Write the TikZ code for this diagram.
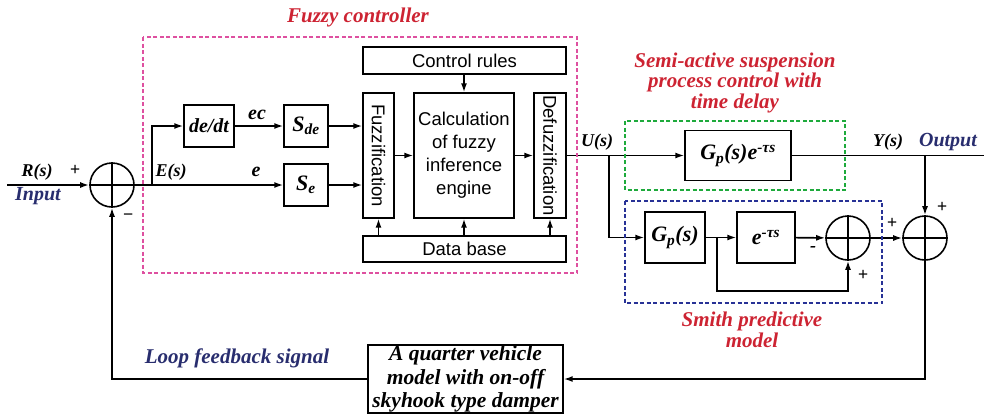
\documentclass[tikz,border=0pt]{standalone}
\usepackage{fontspec}
\setmainfont{Liberation Serif}
\setsansfont{Liberation Sans}
\usetikzlibrary{arrows.meta,calc}
\definecolor{fuzzypink}{RGB}{222,80,160}
\definecolor{plantgreen}{RGB}{30,170,60}
\definecolor{smithblue}{RGB}{40,50,150}
\definecolor{titlered}{RGB}{205,35,50}
\definecolor{navy}{RGB}{40,45,110}
\begin{document}
\begin{tikzpicture}[x=1pt,y=-1pt,
  blk/.style={draw, line width=1.4pt, inner sep=0pt, align=center},
  sans/.style={font=\sffamily\fontsize{18.5}{23}\selectfont},
  lbl/.style={font=\bfseries\itshape\fontsize{18}{21}\selectfont},
  mathlbl/.style={font=\bfseries\itshape\fontsize{22}{24}\selectfont},
  title/.style={font=\bfseries\itshape\fontsize{21}{20.5}\selectfont, text=titlered, align=center},
  navytxt/.style={font=\bfseries\itshape\fontsize{21}{22}\selectfont, text=navy},
  sumc/.style={draw, circle, line width=1.6pt, minimum size=44pt, inner sep=0pt},
  sig/.style={line width=1.6pt},
  arr/.style={sig, -{Latex[length=9pt,width=6pt]}},
  frame/.style={line width=2.4pt, dash pattern=on 4pt off 2.5pt},
]
\useasboundingbox (0,0) rectangle (984,416);

% summing junctions
\node[sumc] (s0) at (112,185) {};
\node[sumc] (s1) at (848,238) {};
\node[sumc] (s2) at (925,238) {};
\foreach \s in {s0,s1,s2}
  \draw[line width=1.1pt] (\s.north) -- (\s.south) (\s.west) -- (\s.east);

% fuzzy controller blocks
\node[blk, lbl, font=\bfseries\itshape\fontsize{20}{22}\selectfont, minimum width=50pt, minimum height=42pt] (dedt) at (209,126) {de/dt};
\node[blk, mathlbl, minimum width=44pt, minimum height=42pt] (sde) at (306,126) {S\textsubscript{de}};
\node[blk, mathlbl, minimum width=44pt, minimum height=42pt] (se) at (306,185) {S\textsubscript{e}};
\node[blk, sans, minimum width=31pt, minimum height=125pt] (fuz) at (378.5,155.5) {\rotatebox{-90}{Fuzzification}};
\node[blk, sans, minimum width=100pt, minimum height=125pt] (calc) at (464,155.5) {Calculation\\of fuzzy\\inference\\engine};
\node[blk, sans, minimum width=32pt, minimum height=125pt] (defz) at (550,155.5) {\rotatebox{-90}{Defuzzification}};
\node[blk, sans, minimum width=203pt, minimum height=27pt] (rules) at (464.5,60.5) {Control rules};
\node[blk, sans, minimum width=203pt, minimum height=26pt] (db) at (464.5,249) {Data base};

% plant and Smith predictor blocks
\node[blk, mathlbl, minimum width=106pt, minimum height=50pt] (gp1) at (738,155.5) {G\textsubscript{p}(s)e\textsuperscript{-τs}};
\node[blk, mathlbl, minimum width=60pt, minimum height=51pt] (gp2) at (675,237.5) {G\textsubscript{p}(s)};
\node[blk, mathlbl, minimum width=58pt, minimum height=51pt] (ets) at (766,237.5) {e\textsuperscript{-τs}};
\node[blk, minimum width=195pt, minimum height=68pt, font=\bfseries\itshape\fontsize{21.5}{23.5}\selectfont] (veh) at (465.5,379)
  {A quarter vehicle\\model with on-off\\skyhook type damper};

% signal routing points
\coordinate (in)  at (7,185);
\coordinate (eb)  at (152,185);
\coordinate (ub)  at (609,155.5);
\coordinate (yb)  at (925,155.5);
\coordinate (out) at (984,155.5);
\coordinate (gb)  at (717,237.5);
\coordinate (gbd) at (717,291);

% signal flow
\draw[arr, line width=2.2pt] (in) -- (s0.west);
\draw[sig] (s0.east) -- (eb);
\draw[arr] (eb) -- (se.west);
\draw[arr] (eb) |- (dedt.west);
\draw[arr] (dedt) -- (sde);
\draw[arr] (sde.east) -- (sde.east -| fuz.west);
\draw[arr] (se.east) -- (se.east -| fuz.west);
\draw[arr] (fuz) -- (calc);
\draw[arr] (calc) -- (defz);
\draw[arr] (rules.south -| calc.north) -- (calc.north);
\draw[arr] (db.north -| fuz.south) -- (fuz.south);
\draw[arr] (db.north -| calc.south) -- (calc.south);
\draw[arr] (db.north -| defz.south) -- (defz.south);
\draw[arr] (defz.east) -- (gp1.west);
\draw[sig] (gp1.east) -- (out);
\draw[arr] (yb) -- (s2.north);
\draw[arr] (ub) |- (gp2.west);
\draw[arr] (gp2) -- (ets);
\draw[arr] (ets) -- (s1);
\draw[arr] (gb) -- (gbd) -| (s1.south);
\draw[arr] (s1) -- (s2);
\draw[arr] (s2.south) |- (veh.east);
\draw[arr] (veh.west) -| (s0.south);

% dashed group frames
\draw[frame, draw=fuzzypink] (143,37) rectangle (577,273);
\draw[frame, draw=plantgreen] (625,121) rectangle (845,190);
\draw[frame, draw=smithblue] (625,201) rectangle (882,303);

% signal labels
\node[lbl] at (37,172) {R(s)};
\node[lbl] at (75,170) {+};
\node[lbl] at (128,217) {−};
\node[navytxt, font=\bfseries\itshape\fontsize{20}{22}\selectfont] at (38,196) {Input};
\node[lbl] at (171,172) {E(s)};
\node[lbl, font=\bfseries\itshape\fontsize{20}{22}\selectfont] at (257,115) {ec};
\node[lbl, font=\bfseries\itshape\fontsize{20}{22}\selectfont] at (256,172) {e};
\node[lbl] at (597,142) {U(s)};
\node[lbl] at (888,142) {Y(s)};
\node[navytxt, font=\bfseries\itshape\fontsize{20}{22}\selectfont] at (948,142) {Output};
\node[lbl] at (813,249) {-};
\node[lbl] at (863,275) {+};
\node[lbl] at (892,223) {+};
\node[lbl] at (942,207) {+};

% group titles
\node[title] at (358,17) {Fuzzy controller};
\node[title] at (735,82.5) {Semi-active suspension\\process control with\\time delay};
\node[title] at (752,330) {Smith predictive\\model};
\node[navytxt] at (237,358) {Loop feedback signal};
\end{tikzpicture}
\end{document}
